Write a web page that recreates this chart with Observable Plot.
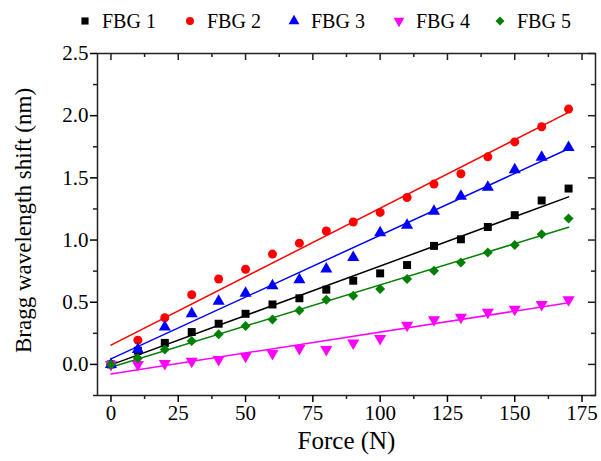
<!DOCTYPE html>
<html><head><meta charset="utf-8">
<script src="https://cdn.jsdelivr.net/npm/d3@7"></script>
<script src="https://cdn.jsdelivr.net/npm/@observablehq/plot@0.6"></script>
<style>
body{margin:0;background:#fff;font-family:"Liberation Serif",serif;}
#wrap{position:relative;width:601px;height:461px;overflow:hidden;}
#legend{position:absolute;left:0;top:0;width:601px;height:40px;}
.item{position:absolute;top:9px;height:24px;display:flex;align-items:center;font-family:"Liberation Serif",serif;font-size:20px;color:#000;white-space:nowrap;}
.item svg{margin-right:11px;}
#chart{position:absolute;left:0;top:40px;}
#chart svg text{font-family:"Liberation Serif",serif;}
</style></head>
<body><div id="wrap"><div id="legend"></div><div id="chart"></div></div>
<script>
const forces = [0,10,20,30,40,50,60,70,80,90,100,110,120,130,140,150,160,170];
const fbg1 = [0,0.11,0.173,0.26,0.327,0.407,0.482,0.532,0.601,0.673,0.732,0.799,0.953,1.006,1.105,1.2,1.318,1.414];
const fbg2 = [0,0.195,0.375,0.56,0.687,0.765,0.887,0.975,1.073,1.145,1.222,1.342,1.45,1.533,1.669,1.789,1.911,2.053];
const fbg3 = [0,0.12,0.30,0.407,0.508,0.572,0.633,0.681,0.767,0.86,1.059,1.118,1.232,1.352,1.424,1.565,1.666,1.744];
const fbg4 = [0,0.0,0.008,0.026,0.04,0.065,0.088,0.128,0.12,0.173,0.208,0.314,0.36,0.38,0.42,0.444,0.482,0.519];
const fbg5 = [0,0.05,0.12,0.189,0.242,0.308,0.362,0.434,0.519,0.553,0.607,0.687,0.753,0.82,0.9,0.961,1.046,1.174];
const seriesNames = ["FBG 1","FBG 2","FBG 3","FBG 4","FBG 5"];
const seriesColors = ["#000000","#ff0000","#0000ff","#ff00ff","#008000"];
const xMajor = [0,25,50,75,100,125,150,175];
const xMinor = [12.5,37.5,62.5,87.5,112.5,137.5,162.5];
const yMajor = [0,0.5,1.0,1.5,2.0,2.5];
const yMinor = [-0.25,0.25,0.75,1.25,1.75,2.25];
const xLabel = "Force (N)";
const yLabel = "Bragg wavelength shift (nm)";

const FF = "'Liberation Serif', serif";
const triangleDown = {draw(ctx, size){const y=-Math.sqrt(size/(Math.sqrt(3)*3)); ctx.moveTo(0,-2*y); ctx.lineTo(-Math.sqrt(3)*y,y); ctx.lineTo(Math.sqrt(3)*y,y); ctx.closePath();}};
const symbols = [d3.symbolSquare, d3.symbolCircle, d3.symbolTriangle, triangleDown, d3.symbolDiamond2];
const allSeries = [fbg1,fbg2,fbg3,fbg4,fbg5];
const data = [];
allSeries.forEach((arr,i)=>arr.forEach((v,j)=>data.push({force:forces[j], shift:v, s:i})));

const W=601,H=421,mL=97,mR=6,mT=13,mB=66;
const innerW=W-mL-mR, innerH=H-mT-mB;
const R=4.5;
const tk={stroke:"#222",strokeWidth:1.5};
const marks=[];
allSeries.forEach((arr,i)=>{
  const d=data.filter(e=>e.s===i);
  marks.push(Plot.linearRegressionY(d,{x:"force",y:"shift",stroke:seriesColors[i],strokeWidth:1.5,ci:0}));
});
allSeries.forEach((arr,i)=>{
  const d=data.filter(e=>e.s===i);
  marks.push(Plot.dot(d,{x:"force",y:"shift",fill:seriesColors[i],symbol:symbols[i],r:R,stroke:"none"}));
});
const chart = Plot.plot({
  width:W,height:H,marginLeft:mL,marginRight:mR,marginTop:mT,marginBottom:mB,
  style:"font-family:'Liberation Serif',serif;font-size:21px;color:#000;background:#fff;",
  x:{domain:[-5,180]}, y:{domain:[-0.25,2.5]},
  marks:[
    ...marks,
    Plot.frame({stroke:"#222",strokeWidth:1.5}),
    Plot.axisX(xMajor,{tickSize:7,tickPadding:3,fontSize:21,fontFamily:FF,label:null,strokeWidth:1.5,tickFormat:d=>String(d)}),
    Plot.axisY(yMajor,{tickSize:7,tickPadding:2,fontSize:21,fontFamily:FF,label:null,strokeWidth:1.5,tickFormat:d3.format(".1f")}),
    Plot.tickX(xMinor,{x:d=>d,insetTop:innerH,insetBottom:-4,...tk}),
    Plot.tickX(xMajor,{x:d=>d,insetBottom:innerH-7,...tk}),
    Plot.tickX(xMinor,{x:d=>d,insetBottom:innerH-4,...tk}),
    Plot.tickY(yMinor,{y:d=>d,insetLeft:-4,insetRight:innerW,...tk}),
    Plot.tickY(yMajor,{y:d=>d,insetLeft:innerW-7,...tk}),
    Plot.tickY(yMinor,{y:d=>d,insetLeft:innerW-4,...tk}),
    Plot.text([xLabel],{text:d=>d,frameAnchor:"bottom",lineAnchor:"middle",textAnchor:"middle",dy:45,fontSize:25,fontFamily:FF}),
    Plot.text([yLabel],{text:d=>d,frameAnchor:"left",lineAnchor:"middle",textAnchor:"middle",rotate:-90,dx:-74,dy:-4,fontSize:23,fontFamily:FF})
  ]
});
document.getElementById("chart").appendChild(chart);

const legendX=[85,190,294,399,500];
const leg=document.getElementById("legend");
seriesNames.forEach((n,i)=>{
  const div=document.createElement("div");
  div.className="item";
  div.style.left=(legendX[i]-6)+"px";
  const size=R*R*Math.PI*0.8;
  const path=d3.symbol(symbols[i],size)();
  div.innerHTML=`<svg width="12" height="12" viewBox="-6 -6 12 12"><path d="${path}" fill="${seriesColors[i]}"/></svg><span>${n}</span>`;
  leg.appendChild(div);
});
</script></body></html>
